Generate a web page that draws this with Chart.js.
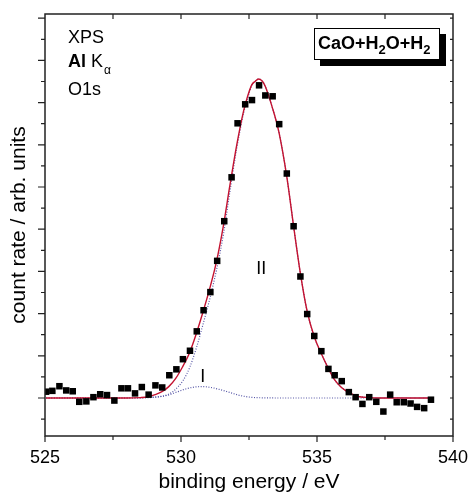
<!DOCTYPE html>
<html>
<head>
<meta charset="utf-8">
<script src="https://cdn.jsdelivr.net/npm/chart.js@4/dist/chart.umd.min.js"></script>
<style>
html,body{margin:0;padding:0;background:#fff}
canvas{display:block}
</style>
</head>
<body>
<canvas id="xps" width="469" height="495"></canvas>
<script>
// O1s spectrum, binding energy (eV) vs counts (arb. units, baseline = 0)
var energy = [525.04, 525.27, 525.53, 525.78, 526.02, 526.26, 526.52, 526.78, 527.03, 527.28,
  527.55, 527.81, 528.05, 528.31, 528.56, 528.81, 529.06, 529.31, 529.57, 529.83,
  530.07, 530.33, 530.58, 530.83, 531.08, 531.33, 531.59, 531.86, 532.08, 532.36,
  532.61, 532.87, 533.10, 533.37, 533.61, 533.89, 534.14, 534.39, 534.64, 534.90,
  535.16, 535.42, 535.65, 535.91, 536.17, 536.42, 536.67, 536.92, 537.18, 537.44,
  537.69, 537.93, 538.19, 538.44, 538.68, 538.94, 539.19];
var counts = [0.15, 0.17, 0.28, 0.18, 0.16, -0.09, -0.08, 0.02, 0.09, 0.07,
  -0.06, 0.23, 0.23, 0.11, 0.26, 0.08, 0.30, 0.25, 0.54, 0.68,
  0.92, 1.12, 1.58, 2.08, 2.51, 3.25, 4.19, 5.23, 6.51, 6.96,
  7.06, 7.41, 7.17, 7.15, 6.49, 5.32, 4.07, 2.88, 1.99, 1.47,
  1.11, 0.69, 0.54, 0.40, 0.14, 0.02, -0.14, 0.02, -0.09, -0.32,
  0.08, -0.10, -0.10, -0.13, -0.21, -0.24, -0.04];

// total fit (red)
var fitX = [525.04, 526, 527, 528, 528.5, 528.8, 529.05, 529.3, 529.55, 529.8, 530.05, 530.3,
  530.55, 530.8, 531.05, 531.3, 531.55, 531.8, 532.05, 532.3, 532.45, 532.6, 532.72, 532.85,
  533.0, 533.1, 533.35, 533.6, 533.9, 534.14, 534.39, 534.64, 534.9, 535.16, 535.42, 535.65,
  535.9, 536.2, 536.5, 536.9, 537.2, 538, 539.19];
var fitY = [0, 0, 0, 0, 0.01, 0.03, 0.08, 0.15, 0.27, 0.46, 0.73, 1.05,
  1.50, 2.02, 2.58, 3.22, 4.05, 5.05, 6.0, 6.8, 7.15, 7.42, 7.50, 7.56,
  7.50, 7.38, 6.90, 6.30, 5.20, 4.07, 2.95, 2.05, 1.45, 1.05, 0.70, 0.43,
  0.25, 0.12, 0.04, 0.01, 0, 0, 0];

// component I (small, dotted blue)
var peak1X = [525.04, 528, 528.7, 529.1, 529.47, 529.84, 530.2, 530.5, 530.8, 531.1, 531.43,
  531.8, 532.17, 532.54, 533, 534, 539.19];
var peak1Y = [0, 0, 0.01, 0.03, 0.06, 0.14, 0.22, 0.26, 0.27, 0.25, 0.20,
  0.13, 0.06, 0.02, 0.005, 0, 0];

// component II (main, dotted blue)
var peak2X = [525.04, 528, 528.8, 529.23, 529.5, 529.72, 530.08, 530.33, 530.58, 530.82, 531.07,
  531.31, 531.56, 531.8, 532.05, 532.3, 532.45, 532.6, 532.72, 532.85, 533.0, 533.1, 533.35,
  533.6, 533.9, 534.14, 534.39, 534.64, 534.9, 535.16, 535.42, 535.65, 535.9, 536.2, 536.5,
  536.9, 537.2, 538, 539.19];
var peak2Y = [0, 0, 0.01, 0.03, 0.08, 0.16, 0.42, 0.74, 1.22, 1.77, 2.38,
  3.05, 3.88, 4.90, 5.92, 6.75, 7.10, 7.40, 7.50, 7.56, 7.50, 7.38, 6.90,
  6.30, 5.20, 4.07, 2.95, 2.05, 1.45, 1.05, 0.70, 0.43, 0.25, 0.12, 0.04,
  0.01, 0, 0, 0];

var xMajor = [525, 530, 535, 540];
var xMinor = [527.5, 532.5, 537.5];
var yMajor = [0, 1, 2, 3, 4, 5, 6, 7, 8, 9];
var yMinor = [-0.5, 0.5, 1.5, 2.5, 3.5, 4.5, 5.5, 6.5, 7.5, 8.5];

var FONT = "'Liberation Sans', Arial, sans-serif";
var RED = '#c41230', DOT = '#5656a6';

function pts(xs, ys) { return xs.map(function (x, i) { return { x: x, y: ys[i] }; }); }

// frame, ticks on all four sides, in-plot labels
var decor = {
  id: 'decor',
  afterDraw: function (chart) {
    var ctx = chart.ctx, a = chart.chartArea, sx = chart.scales.x, sy = chart.scales.y;
    ctx.save();
    ctx.strokeStyle = '#222'; ctx.lineWidth = 1.5;
    ctx.strokeRect(a.left, a.top, a.right - a.left, a.bottom - a.top);
    ctx.lineWidth = 1.2; ctx.beginPath();
    xMajor.forEach(function (v) { var p = sx.getPixelForValue(v); ctx.moveTo(p, a.bottom); ctx.lineTo(p, a.bottom + 6); });
    xMinor.forEach(function (v) { var p = sx.getPixelForValue(v); ctx.moveTo(p, a.bottom); ctx.lineTo(p, a.bottom + 4); });
    xMinor.concat([530, 535]).forEach(function (v) { var p = sx.getPixelForValue(v); ctx.moveTo(p, a.top); ctx.lineTo(p, a.top + 5); });
    yMajor.forEach(function (v) { var p = sy.getPixelForValue(v); ctx.moveTo(a.left - 7, p); ctx.lineTo(a.left, p); ctx.moveTo(a.right - 3, p); ctx.lineTo(a.right, p); });
    yMinor.forEach(function (v) { var p = sy.getPixelForValue(v); ctx.moveTo(a.left - 4, p); ctx.lineTo(a.left, p); ctx.moveTo(a.right - 3, p); ctx.lineTo(a.right, p); });
    ctx.stroke();

    // top-left labels
    ctx.fillStyle = '#000'; ctx.textBaseline = 'alphabetic'; ctx.textAlign = 'left';
    ctx.font = '18px ' + FONT;
    ctx.fillText('XPS', 68, 43);
    ctx.font = 'bold 18px ' + FONT;
    ctx.fillText('Al', 68, 67);
    ctx.font = '18px ' + FONT;
    ctx.fillText('K', 91, 67);
    ctx.font = '12px ' + FONT;
    ctx.fillText('\u03b1', 104, 74);
    ctx.font = '18px ' + FONT;
    ctx.fillText('O1s', 68, 95);

    // component labels
    ctx.textAlign = 'center';
    ctx.fillText('I', sx.getPixelForValue(530.8), sy.getPixelForValue(0.39));
    ctx.fillText('II', sx.getPixelForValue(532.95), sy.getPixelForValue(2.93));

    // sample box with drop shadow
    ctx.fillStyle = '#000';
    ctx.fillRect(320, 34, 126, 32);
    ctx.fillStyle = '#fff';
    ctx.fillRect(314, 28, 126, 32);
    ctx.lineWidth = 1; ctx.strokeStyle = '#000';
    ctx.strokeRect(314.5, 28.5, 125, 31);
    ctx.fillStyle = '#000'; ctx.textAlign = 'left';
    var x = 318, parts = [['CaO+H', 0], ['2', 1], ['O+H', 0], ['2', 1]];
    parts.forEach(function (p) {
      ctx.font = 'bold ' + (p[1] ? 13 : 18) + 'px ' + FONT;
      ctx.fillText(p[0], x, p[1] ? 54 : 49);
      x += ctx.measureText(p[0]).width;
    });
    ctx.restore();
  }
};

new Chart(document.getElementById('xps'), {
  type: 'scatter',
  data: {
    datasets: [
      { data: pts(energy, counts), pointStyle: 'rect', pointRadius: 4.6, pointBackgroundColor: '#000',
        pointBorderWidth: 0, showLine: false },
      { data: pts(fitX, fitY), showLine: true, borderColor: RED, borderWidth: 1.4, pointRadius: 0,
        cubicInterpolationMode: 'monotone' },
      { data: pts(peak2X, peak2Y), showLine: true, borderColor: DOT, borderWidth: 1.2, borderDash: [1, 1.6],
        pointRadius: 0, cubicInterpolationMode: 'monotone' },
      { data: pts(peak1X, peak1Y), showLine: true, borderColor: DOT, borderWidth: 1.2, borderDash: [1, 1.6],
        pointRadius: 0, cubicInterpolationMode: 'monotone' }
    ]
  },
  options: {
    responsive: false, animation: false, devicePixelRatio: 1,
    layout: { padding: { left: 0, top: 14, right: 16, bottom: 0 } },
    plugins: { legend: { display: false }, tooltip: { enabled: false } },
    scales: {
      x: {
        type: 'linear', min: 525, max: 540,
        // tick marks drawn by the plugin; tickLength only pushes the labels down
        grid: { display: false, drawTicks: true, tickLength: 11 }, border: { display: false },
        ticks: { stepSize: 5, color: '#000', font: { family: FONT, size: 18 }, padding: 0, maxRotation: 0 },
        title: { display: true, text: 'binding energy / eV', color: '#000',
                 font: { family: FONT, size: 21 }, padding: { top: 0, bottom: 0 } },
        afterFit: function (s) { s.height = 59; }
      },
      y: {
        min: -0.9, max: 9.1,
        grid: { display: false, drawTicks: false }, border: { display: false },
        ticks: { display: false },
        title: { display: true, text: 'count rate / arb. units', color: '#000',
                 font: { family: FONT, size: 21 }, padding: { top: 7, bottom: 0 } },
        afterFit: function (s) { s.width = 45; }
      }
    }
  },
  plugins: [decor]
});
</script>
</body>
</html>
